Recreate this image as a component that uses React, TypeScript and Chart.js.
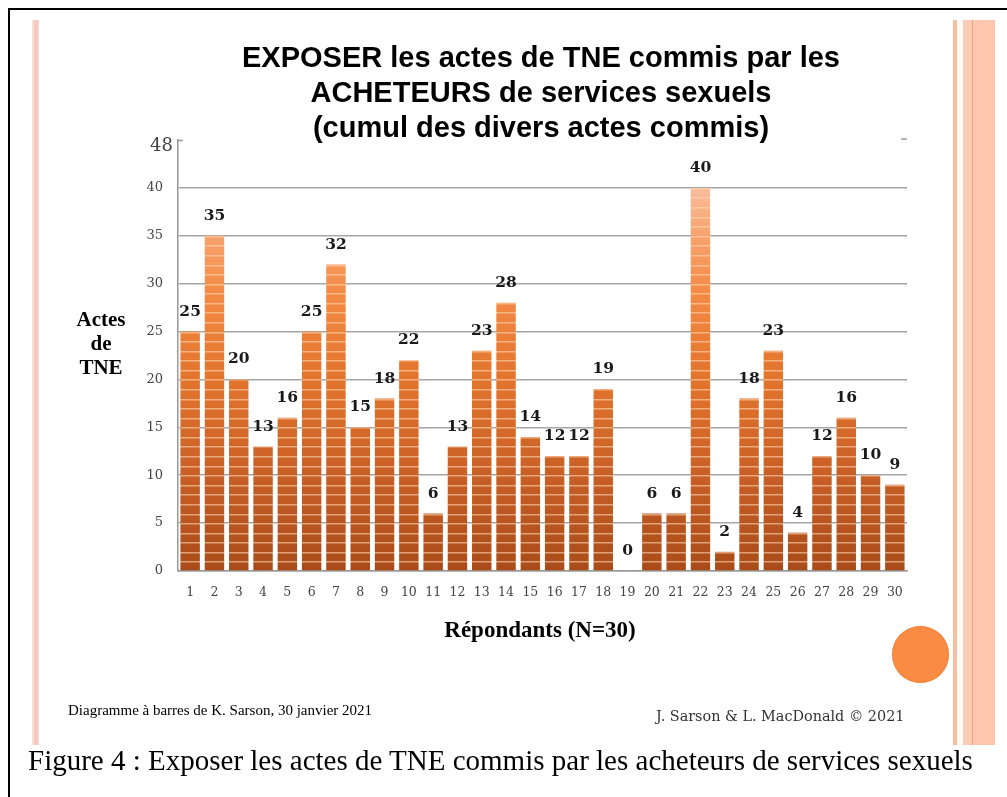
import React, { useEffect, useRef } from "react";
import { Chart, registerables } from "chart.js";

Chart.register(...registerables);

const categories: string[] = Array.from({ length: 30 }, (_, i) => String(i + 1));
const actes: number[] = [25, 35, 20, 13, 16, 25, 32, 15, 18, 22, 6, 13, 23, 28, 14, 12, 12, 19, 0, 6, 6, 40, 2, 18, 23, 4, 12, 16, 10, 9];
const yTicks: number[] = [0, 5, 10, 15, 20, 25, 30, 35, 40, 45];
const topTickLabel = "48";

const titleLines = [
  "EXPOSER les actes de TNE commis par les",
  "ACHETEURS de services sexuels",
  "(cumul des divers actes commis)",
];

let patternCache: { key: string; pat: CanvasPattern | null } = { key: "", pat: null };

function barFill(chart: any): any {
  const area = chart.chartArea;
  const y = chart.scales && chart.scales.y;
  if (!area || !y) return "#d06a28";
  const key = `${area.top}-${area.bottom}-${chart.height}`;
  if (patternCache.key === key && patternCache.pat) return patternCache.pat;
  const off = document.createElement("canvas");
  off.width = 8;
  off.height = chart.height;
  const c = off.getContext("2d")!;
  const y0 = y.getPixelForValue(0);
  const y40 = y.getPixelForValue(40);
  const g = c.createLinearGradient(0, y0, 0, y40);
  g.addColorStop(0, "#a94b19");
  g.addColorStop(0.25, "#c85f26");
  g.addColorStop(0.5, "#e2742c");
  g.addColorStop(0.72, "#f38a43");
  g.addColorStop(0.87, "#f7a16c");
  g.addColorStop(1, "#fabd9c");
  c.fillStyle = g;
  c.fillRect(0, 0, off.width, off.height);
  c.fillStyle = "rgba(255,215,180,0.6)";
  for (let v = 1; v <= 45; v++) {
    const py = y.getPixelForValue(v);
    c.fillRect(0, Math.round(py), off.width, 1.5);
  }
  const pat = c.createPattern(off, "repeat");
  patternCache = { key, pat };
  return pat;
}

const valueLabels = {
  id: "valueLabels",
  afterDatasetsDraw(chart: any) {
    const ctx = chart.ctx;
    const meta = chart.getDatasetMeta(0);
    ctx.save();
    ctx.font = "bold 15.5px 'DejaVu Serif'";
    ctx.fillStyle = "#1a1a1a";
    ctx.textAlign = "center";
    ctx.textBaseline = "middle";
    meta.data.forEach((bar: any, i: number) => {
      ctx.fillText(String(actes[i]), bar.x, bar.y - 20);
    });
    // top axis label and stubs
    const area = chart.chartArea;
    ctx.font = "18px 'DejaVu Serif'";
    ctx.fillStyle = "#444";
    ctx.textAlign = "right";
    ctx.fillText(topTickLabel, area.left - 5, area.top + 6);
    ctx.strokeStyle = "#9a9a9a";
    ctx.lineWidth = 1.5;
    ctx.beginPath();
    ctx.moveTo(area.left, area.top + 0.5);
    ctx.lineTo(area.left + 5, area.top + 0.5);
    ctx.moveTo(area.right - 6, area.top - 1);
    ctx.lineTo(area.right, area.top - 1);
    ctx.stroke();
    ctx.restore();
  },
};

function BarChart() {
  const ref = useRef<HTMLCanvasElement | null>(null);
  useEffect(() => {
    if (!ref.current) return;
    const chart = new Chart(ref.current, {
      type: "bar",
      data: {
        labels: categories,
        datasets: [
          {
            data: actes,
            backgroundColor: (ctx: any) => barFill(ctx.chart),
            borderWidth: 0,
            barPercentage: 0.8,
            categoryPercentage: 1,
          },
        ],
      },
      options: {
        animation: false,
        responsive: false,
        events: [],
        layout: { padding: { left: 100, right: 100, top: 140, bottom: 186 } },
        plugins: { legend: { display: false }, title: { display: false }, tooltip: { enabled: false } },
        scales: {
          x: {
            grid: { display: false },
            border: { color: "#9a9a9a", width: 1.5 },
            ticks: { color: "#444", font: { family: "DejaVu Serif", size: 12.5 }, padding: 6 },
            afterFit: (s: any) => {
              s.height = 40;
            },
          },
          y: {
            min: 0,
            max: 45,
            afterBuildTicks: (s: any) => {
              s.ticks = yTicks.map((v) => ({ value: v }));
            },
            ticks: {
              color: "#444",
              padding: 15,
              callback: (v: any) => (Number(v) === 45 ? "" : String(v)),
              font: { family: "DejaVu Serif", size: 13 },
            },
            grid: {
              drawTicks: false,
              color: (ctx: any) => (ctx.tick && ctx.tick.value === 45 ? "rgba(0,0,0,0)" : "#a6a6a6"),
              lineWidth: 1.5,
            },
            border: { color: "#9a9a9a", width: 1.5 },
            afterFit: (s: any) => {
              s.width = 78;
            },
          },
        },
      },
      plugins: [valueLabels],
    });
    return () => chart.destroy();
  }, []);
  return <canvas ref={ref} width={1007} height={797} style={{ position: "absolute", left: 0, top: 0 }} />;
}

export default function App() {
  const abs: React.CSSProperties = { position: "absolute" };
  return (
    <div style={{ position: "absolute", left: 0, top: 0, width: 1007, height: 797, overflow: "hidden", background: "#fff" }}>
      <div style={{ ...abs, left: 8, top: 8, width: 1040, height: 840, border: "2px solid #000", boxSizing: "border-box" }} />
      <div style={{ ...abs, left: 32, top: 20, width: 7, height: 725, background: "linear-gradient(to right, #fbe6de, #f3c8ba, #f6d5c9)" }} />
      <div
        style={{
          ...abs,
          left: 953,
          top: 20,
          width: 42,
          height: 725,
          background:
            "linear-gradient(to right, #f6bfa3 0px, #f6bfa3 4px, #fdfaf7 4px, #fdfaf7 10px, #fbcdb8 10px, #fbcdb8 19px, #e3a386 19px, #e3a386 20px, #fcc7ae 20px, #fcc7ae 27px, #fdc6ad 27px, #fdc6ad 42px)",
        }}
      />
      <BarChart />
      <div
        style={{
          ...abs,
          left: 191,
          width: 700,
          top: 40,
          textAlign: "center",
          fontFamily: "'Liberation Sans', Arial, sans-serif",
          fontWeight: "bold",
          fontSize: 29,
          lineHeight: "35px",
          color: "#000",
        }}
      >
        {titleLines.map((l, i) => (
          <div key={i}>{l}</div>
        ))}
      </div>
      <div
        style={{
          ...abs,
          left: 55,
          width: 92,
          top: 307,
          textAlign: "center",
          fontFamily: "'Liberation Serif', serif",
          fontWeight: "bold",
          fontSize: 21,
          lineHeight: "24px",
          color: "#000",
        }}
      >
        <div>Actes</div>
        <div>de</div>
        <div>TNE</div>
      </div>
      <div
        style={{
          ...abs,
          left: 340,
          width: 400,
          top: 615,
          textAlign: "center",
          fontFamily: "'Liberation Serif', serif",
          fontWeight: "bold",
          fontSize: 23,
          lineHeight: "30px",
          color: "#000",
        }}
      >
        Répondants (N=30)
      </div>
      <div style={{ ...abs, left: 892, top: 626, width: 57, height: 57, borderRadius: "50%", background: "#f98b43", boxShadow: "inset 0 0 2px #e07a35" }} />
      <div
        style={{ ...abs, left: 68, top: 700, fontFamily: "'Liberation Serif', serif", fontSize: 15, lineHeight: "20px", color: "#000", whiteSpace: "nowrap" }}
      >
        Diagramme à barres de K. Sarson, 30 janvier 2021
      </div>
      <div
        style={{ ...abs, left: 656, top: 706, fontFamily: "'DejaVu Serif', serif", fontSize: 14.4, lineHeight: "20px", color: "#333", whiteSpace: "nowrap" }}
      >
        J. Sarson &amp; L. MacDonald © 2021
      </div>
      <div
        style={{ ...abs, left: 28, top: 742, fontFamily: "'Liberation Serif', serif", fontSize: 29, lineHeight: "36px", color: "#000", whiteSpace: "nowrap" }}
      >
        Figure 4 : Exposer les actes de TNE commis par les acheteurs de services sexuels
      </div>
    </div>
  );
}
